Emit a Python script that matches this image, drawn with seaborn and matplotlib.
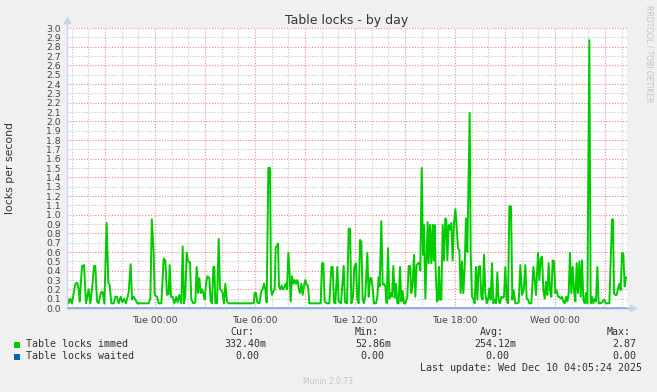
import matplotlib
matplotlib.use("Agg")
import matplotlib.pyplot as plt
from matplotlib.ticker import MultipleLocator, FuncFormatter
from matplotlib.patches import Rectangle
import seaborn as sns
import pandas as pd

# ---------------- data (hours relative to Tue 00:00) ----------------
immed_hours = [
    -5.28, -5.18, -5.08, -4.98, -4.78, -4.66, -4.58, -4.52, -4.38, -4.26,
    -4.14, -3.98, -3.88, -3.78, -3.66, -3.58, -3.48, -3.38, -3.24, -3.14,
    -3.04, -2.90, -2.80, -2.72, -2.62, -2.48, -2.38, -2.28, -2.18, -2.06,
    -1.96, -1.86, -1.74, -1.58, -1.46, -1.38, -1.28, -1.18, -1.06, -0.38,
    -0.28, -0.19, -0.08, -0.02, 0.12, 0.22, 0.38, 0.52, 0.62, 0.72,
    0.82, 0.88, 0.96, 1.06, 1.16, 1.28, 1.36, 1.46, 1.58, 1.66,
    1.74, 1.82, 1.90, 1.98, 2.10, 2.18, 2.30, 2.42, 2.50, 2.58,
    2.66, 2.74, 2.82, 2.90, 2.98, 3.06, 3.14, 3.26, 3.34, 3.42,
    3.50, 3.56, 3.62, 3.72, 3.82, 3.90, 3.98, 4.06, 4.14, 4.22,
    4.32, 4.42, 5.92, 5.98, 6.06, 6.14, 6.26, 6.38, 6.46, 6.54,
    6.62, 6.70, 6.80, 6.90, 6.96, 7.02, 7.10, 7.18, 7.24, 7.30,
    7.38, 7.44, 7.52, 7.60, 7.68, 7.76, 7.84, 7.92, 8.00, 8.08,
    8.14, 8.22, 8.30, 8.38, 8.46, 8.54, 8.62, 8.70, 8.78, 8.86,
    8.94, 9.02, 9.10, 9.18, 9.26, 9.94, 10.02, 10.10, 10.18, 10.30,
    10.46, 10.58, 10.66, 10.74, 10.82, 10.94, 11.02, 11.16, 11.32, 11.40,
    11.52, 11.62, 11.70, 11.78, 11.88, 11.96, 12.06, 12.14, 12.22, 12.30,
    12.38, 12.46, 12.54, 12.62, 12.74, 12.82, 12.90, 12.98, 13.06, 13.14,
    13.26, 13.34, 13.42, 13.48, 13.58, 13.66, 13.74, 13.82, 13.90, 13.98,
    14.06, 14.14, 14.22, 14.30, 14.38, 14.46, 14.54, 14.62, 14.70, 14.78,
    14.86, 14.94, 15.02, 15.14, 15.22, 15.30, 15.38, 15.46, 15.54, 15.62,
    15.70, 15.78, 15.86, 15.92, 16.00, 16.08, 16.14, 16.22, 16.36, 16.42,
    16.50, 16.58, 16.66, 16.72, 16.78, 16.84, 16.92, 16.98, 17.04, 17.10,
    17.18, 17.26, 17.34, 17.42, 17.48, 17.54, 17.62, 17.70, 17.78, 17.86,
    17.94, 18.02, 18.10, 18.18, 18.26, 18.34, 18.42, 18.50, 18.58, 18.66,
    18.74, 18.88, 18.94, 19.02, 19.10, 19.18, 19.26, 19.34, 19.42, 19.50,
    19.58, 19.66, 19.74, 19.82, 19.90, 19.98, 20.06, 20.14, 20.22, 20.30,
    20.38, 20.46, 20.54, 20.62, 20.70, 20.78, 20.86, 20.94, 21.02, 21.10,
    21.18, 21.26, 21.36, 21.44, 21.52, 21.62, 21.72, 21.82, 21.92, 22.02,
    22.12, 22.22, 22.30, 22.38, 22.46, 22.58, 22.70, 22.78, 22.86, 22.98,
    23.06, 23.14, 23.22, 23.30, 23.38, 23.46, 23.54, 23.62, 23.70, 23.78,
    23.86, 23.94, 24.02, 24.10, 24.18, 24.26, 24.34, 24.42, 24.50, 24.58,
    24.66, 24.74, 24.82, 24.90, 24.98, 25.06, 25.14, 25.22, 25.30, 25.38,
    25.46, 25.54, 25.62, 25.70, 25.78, 25.86, 25.94, 26.06, 26.14, 26.22,
    26.30, 26.38, 26.46, 26.54, 26.62, 26.70, 26.82, 26.94, 27.06, 27.26,
    27.42, 27.48, 27.54, 27.62, 27.70, 27.78, 27.86, 27.94, 28.02, 28.10,
    28.18, 28.26,
]
immed_values = [
    0.12, 0.05, 0.10, 0.05, 0.26, 0.27, 0.20, 0.07, 0.45, 0.46,
    0.05, 0.20, 0.05, 0.20, 0.45, 0.45, 0.07, 0.05, 0.17, 0.17,
    0.05, 0.91, 0.27, 0.25, 0.05, 0.05, 0.12, 0.12, 0.05, 0.12,
    0.06, 0.10, 0.05, 0.17, 0.47, 0.09, 0.12, 0.09, 0.05, 0.05,
    0.10, 0.95, 0.59, 0.14, 0.12, 0.05, 0.05, 0.53, 0.51, 0.14,
    0.15, 0.46, 0.12, 0.12, 0.05, 0.12, 0.06, 0.14, 0.05, 0.66,
    0.05, 0.14, 0.59, 0.50, 0.49, 0.09, 0.05, 0.06, 0.44, 0.16,
    0.32, 0.16, 0.20, 0.16, 0.09, 0.26, 0.34, 0.32, 0.07, 0.05,
    0.44, 0.44, 0.05, 0.05, 0.74, 0.20, 0.19, 0.16, 0.05, 0.26,
    0.07, 0.05, 0.05, 0.16, 0.16, 0.06, 0.05, 0.18, 0.20, 0.26,
    0.20, 0.06, 1.50, 1.50, 0.20, 0.14, 0.18, 0.20, 0.65, 0.66,
    0.69, 0.23, 0.20, 0.24, 0.20, 0.22, 0.26, 0.20, 0.59, 0.35,
    0.07, 0.34, 0.26, 0.30, 0.26, 0.30, 0.21, 0.16, 0.26, 0.14,
    0.24, 0.30, 0.25, 0.24, 0.05, 0.05, 0.48, 0.48, 0.07, 0.05,
    0.05, 0.44, 0.44, 0.06, 0.05, 0.44, 0.07, 0.05, 0.45, 0.06,
    0.05, 0.85, 0.85, 0.05, 0.12, 0.44, 0.48, 0.09, 0.05, 0.73,
    0.71, 0.09, 0.05, 0.14, 0.59, 0.12, 0.32, 0.32, 0.21, 0.05,
    0.05, 0.12, 0.33, 0.23, 0.93, 0.25, 0.26, 0.23, 0.05, 0.64,
    0.10, 0.16, 0.12, 0.45, 0.11, 0.26, 0.05, 0.05, 0.44, 0.07,
    0.18, 0.05, 0.05, 0.12, 0.45, 0.45, 0.16, 0.26, 0.57, 0.12,
    0.46, 0.48, 0.48, 0.40, 1.50, 0.57, 0.89, 0.10, 0.92, 0.48,
    0.89, 0.48, 0.89, 0.51, 0.89, 0.40, 0.07, 0.09, 0.44, 0.09,
    0.09, 0.89, 0.51, 0.96, 0.94, 0.51, 0.89, 0.84, 0.91, 0.51,
    0.91, 1.06, 0.87, 0.64, 0.62, 0.16, 0.50, 0.16, 0.44, 0.96,
    0.60, 2.09, 0.58, 0.12, 0.10, 0.05, 0.44, 0.09, 0.44, 0.45,
    0.12, 0.09, 0.57, 0.16, 0.05, 0.09, 0.21, 0.09, 0.48, 0.05,
    0.09, 0.05, 0.38, 0.07, 0.05, 0.12, 0.11, 0.12, 0.44, 0.09,
    0.05, 1.09, 1.09, 0.09, 0.19, 0.05, 0.05, 0.06, 0.46, 0.14,
    0.19, 0.46, 0.10, 0.09, 0.05, 0.05, 0.44, 0.30, 0.14, 0.59,
    0.30, 0.53, 0.55, 0.19, 0.10, 0.28, 0.14, 0.48, 0.19, 0.12,
    0.51, 0.50, 0.16, 0.19, 0.12, 0.12, 0.10, 0.12, 0.07, 0.05,
    0.12, 0.07, 0.16, 0.59, 0.16, 0.44, 0.19, 0.07, 0.48, 0.16,
    0.50, 0.12, 0.51, 0.09, 0.05, 0.16, 0.05, 2.87, 0.05, 0.12,
    0.05, 0.10, 0.07, 0.44, 0.05, 0.05, 0.06, 0.09, 0.05, 0.05,
    0.95, 0.95, 0.16, 0.14, 0.14, 0.21, 0.26, 0.19, 0.59, 0.58,
    0.23, 0.33,
]
waited_hours = [-5.28, 28.26]
waited_values = [0.0, 0.0]

tick_hours = [0, 6, 12, 18, 24]
tick_labels = ["Tue 00:00", "Tue 06:00", "Tue 12:00", "Tue 18:00", "Wed 00:00"]

series_names = ["Table locks immed", "Table locks waited"]
series_colors = ["#00CC00", "#0066B3"]
stat_headers = ["Cur:", "Min:", "Avg:", "Max:"]
stats_immed = ["332.40m", "52.86m", "254.12m", "2.87"]
stats_waited = ["0.00", "0.00", "0.00", "0.00"]

title = "Table locks - by day"
ylabel = "locks per second"
last_update = "Last update: Wed Dec 10 04:05:24 2025"
footer = "Munin 2.0.73"
side_text = "RRDTOOL / TOBI OETIKER"

# ---------------- figure ----------------
sns.set_theme(style="white")
plt.rcParams["font.family"] = ["DejaVu Sans"]

W, H = 657, 392
fig = plt.figure(figsize=(W / 100, H / 100), dpi=100, facecolor="#F0F0F0")
L, R, T, B = 67, 627, 28, 308
ax = fig.add_axes([L / W, 1 - B / H, (R - L) / W, (B - T) / H])
ax.set_facecolor("white")

df_i = pd.DataFrame({"hour": immed_hours, "value": immed_values})
df_w = pd.DataFrame({"hour": waited_hours, "value": waited_values})
sns.lineplot(data=df_w, x="hour", y="value", ax=ax, color="#7FA6DC",
             lw=1.2, zorder=3)
sns.lineplot(data=df_i, x="hour", y="value", ax=ax, color=series_colors[0],
             lw=1.4, zorder=4)

ax.set_xlim(-5.28, 28.32)
ax.set_ylim(0, 3.0)

# grid
ax.xaxis.set_major_locator(MultipleLocator(3))
ax.xaxis.set_minor_locator(MultipleLocator(1))
lab_map = dict(zip(tick_hours, tick_labels))
ax.xaxis.set_major_formatter(FuncFormatter(lambda v, p: lab_map.get(int(round(v)), "") if abs(v - round(v)) < 1e-6 else ""))
ax.yaxis.set_major_locator(MultipleLocator(0.2))
ax.yaxis.set_minor_locator(MultipleLocator(0.1))
ax.yaxis.set_major_formatter(FuncFormatter(lambda v, p: f"{v:.1f}"))
ax.yaxis.set_minor_formatter(FuncFormatter(lambda v, p: f"{v:.1f}"))

ax.grid(which="major", color="#EE8A8A", ls=(0, (1, 1.5)), lw=0.8, zorder=1)
ax.grid(which="minor", color="#C4C4C4", ls=(0, (1, 1.5)), lw=0.8, zorder=1)
ax.set_axisbelow(True)

ax.tick_params(axis="both", which="both", length=2.5, width=0.6, color="#BBBBBB",
               labelsize=6.7, labelcolor="#444444", pad=2)
ax.tick_params(axis="x", which="both", pad=3)
ax.tick_params(axis="y", which="both", direction="out")

for s in ax.spines.values():
    s.set_visible(False)

ax.set_xlabel("")
ax.set_ylabel(ylabel, fontsize=7.8, color="#333333")
ax.yaxis.set_label_coords(-0.092, 0.5)
ax.set_title(title, fontsize=9, color="#333333", pad=3)

# axis lines with arrows
ax.plot([0, 0], [0, 1.025], transform=ax.transAxes, color="#C9D2F2", lw=1.0,
        clip_on=False, zorder=5)
ax.plot([0], [1.03], transform=ax.transAxes, marker="^", ms=4.5, color="#C9D2F2",
        clip_on=False, zorder=5)
ax.plot([0, 1.008], [0, 0], transform=ax.transAxes, color="#8FAEE0", lw=1.0,
        clip_on=False, zorder=5)
ax.plot([1.01], [0], transform=ax.transAxes, marker=">", ms=4.5, color="#C9D2F2",
        clip_on=False, zorder=5)

# ---------------- legend / stats ----------------
mono = "DejaVu Sans Mono"
fs = 7.2
tc = "#333333"
def fx(px): return px / W
def fy(py): return 1 - py / H

header_right = [254, 379, 504, 631]
for hx, htxt in zip(header_right, stat_headers):
    fig.text(fx(hx), fy(332), htxt, ha="right", va="center", family=mono, fontsize=fs, color=tc)

rows_y = [344, 356]
immed_right = [266, 391, 516, 636]
waited_right = [259, 384, 509, 636]
for ry, name, col, vals, rights in zip(rows_y, series_names, series_colors,
                                        [stats_immed, stats_waited], [immed_right, waited_right]):
    fig.patches.append(Rectangle((fx(14), fy(ry + 3.5)), 6 / W, 6 / H, transform=fig.transFigure,
                                 facecolor=col, edgecolor="none"))
    fig.text(fx(26), fy(ry), name, ha="left", va="center", family=mono, fontsize=fs, color=tc)
    for rx, v in zip(rights, vals):
        fig.text(fx(rx), fy(ry), v, ha="right", va="center", family=mono, fontsize=fs, color=tc)

fig.text(fx(642), fy(368), last_update, ha="right", va="center", family=mono, fontsize=fs, color=tc)
fig.text(fx(328), fy(381), footer, ha="center", va="center", fontsize=5.5, color="#C4C4C4")
fig.text(fx(649), fy(5), side_text, ha="center", va="top", rotation=-90, fontsize=5.5,
         color="#C4C4C4")

fig.savefig("out.png", dpi=100, facecolor=fig.get_facecolor())
